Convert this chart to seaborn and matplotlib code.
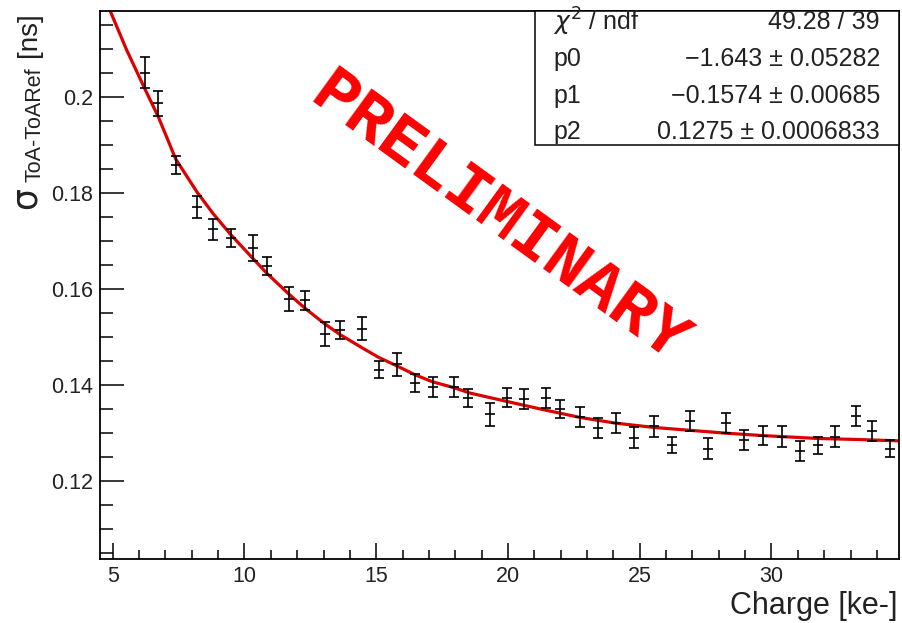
import matplotlib
matplotlib.use("Agg")
import matplotlib.pyplot as plt
import seaborn as sns
import pandas as pd
from matplotlib.patches import Rectangle
from matplotlib.ticker import MultipleLocator, FuncFormatter

# ---- data ----
charge = [6.23, 6.73, 7.39, 8.19, 8.80, 9.49, 10.32, 10.85, 11.70, 12.28,
          13.04, 13.64, 14.46, 15.09, 15.79, 16.46, 17.14, 17.94, 18.49, 19.31,
          19.97, 20.60, 21.43, 21.96, 22.72, 23.43, 24.08, 24.78, 25.54, 26.22,
          26.91, 27.59, 28.29, 28.94, 29.68, 30.39, 31.07, 31.77, 32.41, 33.20,
          33.81, 34.51]
sigma = [0.2050, 0.1986, 0.1858, 0.1771, 0.1724, 0.1705, 0.1685, 0.1647, 0.1578, 0.1576,
         0.1505, 0.1514, 0.1517, 0.1431, 0.1443, 0.1404, 0.1396, 0.1396, 0.1373, 0.1338,
         0.1373, 0.1370, 0.1373, 0.1349, 0.1333, 0.1309, 0.1321, 0.1290, 0.1313, 0.1274,
         0.1324, 0.1267, 0.1320, 0.1285, 0.1294, 0.1292, 0.1262, 0.1274, 0.1292, 0.1335,
         0.1304, 0.1267]
sigma_err = [0.0032, 0.0026, 0.0019, 0.0023, 0.0022, 0.0019, 0.0027, 0.0019, 0.0025, 0.0020,
             0.0025, 0.0019, 0.0024, 0.0018, 0.0024, 0.0019, 0.0021, 0.0021, 0.0019, 0.0024,
             0.0020, 0.0021, 0.0021, 0.0019, 0.0021, 0.0021, 0.0021, 0.0022, 0.0021, 0.0017,
             0.0021, 0.0021, 0.0021, 0.0021, 0.0019, 0.0021, 0.0021, 0.0018, 0.0021, 0.0020,
             0.0021, 0.0018]

# fit curve
fit_x = [4.90, 5.53, 6.23, 6.73, 7.39, 8.19, 8.80, 9.49, 10.32, 10.85, 11.70, 12.28,
         13.04, 13.64, 14.46, 15.09, 15.79, 16.46, 17.14, 17.94, 18.53, 19.97, 21.43,
         22.72, 24.08, 25.54, 26.91, 28.29, 29.68, 31.77, 33.20, 34.85]
fit_y = [0.2179, 0.2097, 0.2015, 0.1958, 0.1870, 0.1802, 0.1757, 0.1712, 0.1663, 0.1632,
         0.1588, 0.1560, 0.1527, 0.1504, 0.1477, 0.1457, 0.1439, 0.1421, 0.1406, 0.1394,
         0.1383, 0.1365, 0.1347, 0.1332, 0.1320, 0.1311, 0.1305, 0.1299, 0.1294, 0.1288,
         0.1286, 0.1283]

stat_names = ["$\\chi^{2}$ / ndf", "p0", "p1", "p2"]
stat_values = ["49.28 / 39", "\u22121.643 \u00b1 0.05282", "\u22120.1574 \u00b1 0.00685",
               "0.1275 \u00b1 0.0006833"]

x_label = "Charge [ke-]"
watermark = "PRELIMINARY"

# ---- style ----
sns.set_theme(style="ticks")
plt.rcParams["font.family"] = ["Liberation Sans", "DejaVu Sans"]
plt.rcParams["mathtext.fontset"] = "dejavusans"

W, H = 903, 623
fig = plt.figure(figsize=(W / 100, H / 100), dpi=100)
fig.patch.set_facecolor("white")
ax = fig.add_axes([100 / W, 1 - 559 / H, (899.3 - 100) / W, (559 - 10.7) / H])
ax.set_facecolor("white")

fit_df = pd.DataFrame({"x": fit_x, "y": fit_y})
sns.lineplot(data=fit_df, x="x", y="y", ax=ax, color="#dc0000", lw=2.3,
             estimator=None, sort=True, zorder=2)

ax.errorbar(charge, sigma, yerr=sigma_err, fmt="_", color="black", ms=7, mew=1.2,
            elinewidth=1.2, capsize=3.4, capthick=1.2, zorder=3)

ax.set_xlim(4.517, 34.85)
ax.set_ylim(0.1037, 0.2179)
ax.set_xlabel("")
ax.set_ylabel("")

ax.xaxis.set_major_locator(MultipleLocator(5))
ax.xaxis.set_minor_locator(MultipleLocator(1))
ax.yaxis.set_major_locator(MultipleLocator(0.02))
ax.yaxis.set_minor_locator(MultipleLocator(0.005))
ax.yaxis.set_major_formatter(FuncFormatter(lambda v, p: ("%.2f" % v).rstrip("0").rstrip(".")))

ax.tick_params(axis="both", which="both", direction="in", color="black", width=1.1,
               top=False, right=False, labelcolor="#222222")
ax.tick_params(axis="y", which="major", length=17, labelsize=15.5, pad=5)
ax.tick_params(axis="y", which="minor", length=9.5)
ax.tick_params(axis="x", which="major", length=11.5, labelsize=15.5, pad=5)
ax.tick_params(axis="x", which="minor", length=6.3)

for s in ax.spines.values():
    s.set_visible(True)
    s.set_color("black")
    s.set_linewidth(1.3)

# axis titles
fig.text(898 / W, 1 - 606 / H, x_label, ha="right", va="center", fontsize=22, color="#222222")
fig.text(29 / W, 1 - 12 / H, "[ns]", ha="center", va="top", rotation=90, fontsize=20,
         color="#222222")
fig.text(35 / W, 1 - 67 / H, "ToA-ToARef", ha="center", va="top", rotation=90, fontsize=15.5,
         color="#222222")
fig.text(26 / W, 1 - 209 / H, "\u03c3", ha="center", va="bottom", rotation=90, fontsize=25,
         color="#222222", family=["DejaVu Sans"])

# stats box
box = Rectangle((535 / W, 1 - 145 / H), (899.3 - 535) / W, (145 - 10.7) / H,
                transform=fig.transFigure, facecolor="white", edgecolor="black",
                lw=1.1, zorder=5)
fig.add_artist(box)
row_y = [22, 59, 96, 132]
for name, val, yy in zip(stat_names, stat_values, row_y):
    fig.text(553 / W, 1 - yy / H, name, ha="left", va="center", fontsize=18,
             color="#222222", zorder=6)
    fig.text(880 / W, 1 - yy / H, val, ha="right", va="center", fontsize=18,
             color="#222222", zorder=6)

# watermark
fig.text(499 / W, 1 - 218 / H, watermark, ha="center", va="center", rotation=-36,
         rotation_mode="anchor", fontsize=49, fontweight="bold", family=["Liberation Mono"],
         color="#ff0000", zorder=7)

fig.savefig("out.png", dpi=100, facecolor="white")
